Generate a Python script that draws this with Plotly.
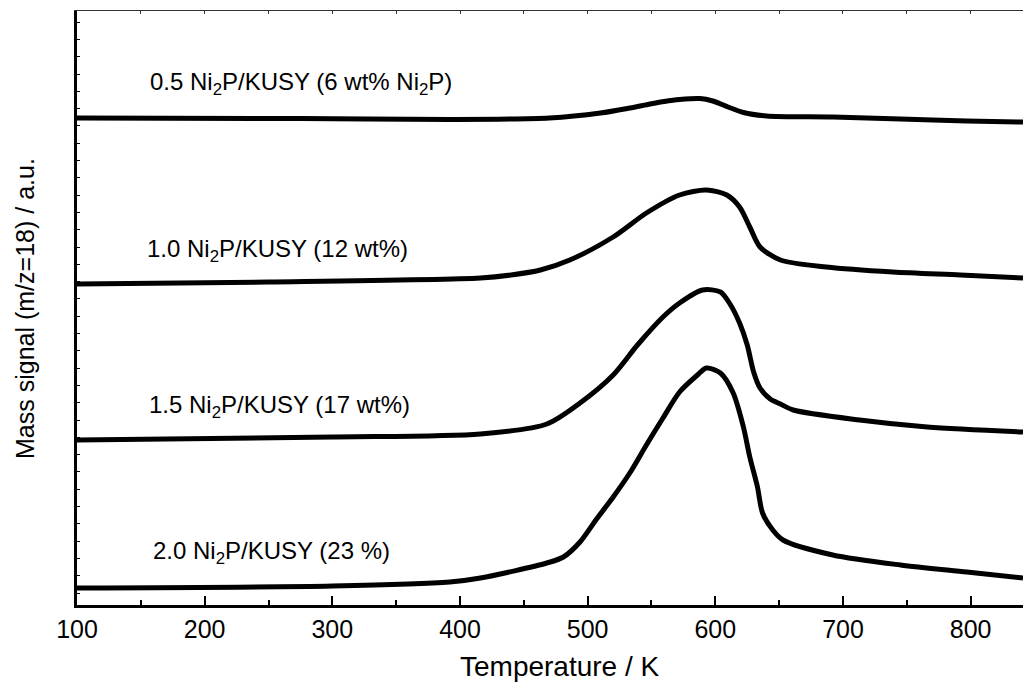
import plotly.graph_objects as go

# Temperature (K) and mass signal (a.u.)
temp_a = [100, 275, 392, 470, 510, 533, 549, 560, 572, 588, 598, 610, 622, 640, 692, 745, 797, 841]
sig_a = [4.87, 4.865, 4.855, 4.87, 4.92, 4.97, 5.01, 5.035, 5.055, 5.065, 5.04, 4.98, 4.925, 4.89, 4.88, 4.86, 4.84, 4.83]

temp_b = [100, 250, 416, 440, 463, 486, 520, 546, 572, 593, 609, 619, 627, 635, 651, 687, 739, 792, 841]
sig_b = [3.21, 3.23, 3.27, 3.30, 3.35, 3.45, 3.68, 3.92, 4.10, 4.15, 4.10, 3.98, 3.78, 3.58, 3.45, 3.38, 3.33, 3.30, 3.27]

temp_c = [100, 300, 416, 468, 494, 520, 539, 559, 572, 590, 604, 611, 619, 625, 630, 635, 643, 651, 661, 713, 766, 841]
sig_c = [1.65, 1.68, 1.71, 1.81, 2.02, 2.30, 2.60, 2.88, 3.02, 3.15, 3.13, 3.02, 2.82, 2.60, 2.33, 2.17, 2.06, 2.01, 1.95, 1.85, 1.78, 1.73]

temp_d = [100, 300, 392, 416, 468, 481, 494, 507, 520, 533, 546, 559, 572, 586, 593, 604, 614, 622, 627, 633, 637, 645, 653, 692, 745, 797, 841]
sig_d = [0.17, 0.19, 0.23, 0.27, 0.42, 0.48, 0.63, 0.86, 1.08, 1.32, 1.60, 1.87, 2.13, 2.30, 2.37, 2.32, 2.12, 1.78, 1.48, 1.18, 0.92, 0.75, 0.65, 0.50, 0.40, 0.33, 0.27]

labels = [
    "0.5 Ni<sub>2</sub>P/KUSY (6 wt% Ni<sub>2</sub>P)",
    "1.0 Ni<sub>2</sub>P/KUSY (12 wt%)",
    "1.5 Ni<sub>2</sub>P/KUSY (17 wt%)",
    "2.0 Ni<sub>2</sub>P/KUSY (23 %)",
]
label_x = [156, 153, 155, 158]
label_y = [5.22, 3.55, 1.99, 0.53]

x_ticks = [100, 200, 300, 400, 500, 600, 700, 800]

FONT = "Liberation Sans, Arial, Helvetica, sans-serif"

fig = go.Figure()
for tx, sy in [(temp_a, sig_a), (temp_b, sig_b), (temp_c, sig_c), (temp_d, sig_d)]:
    fig.add_trace(go.Scatter(x=tx, y=sy, mode="lines",
                             line=dict(color="black", width=5, shape="spline", smoothing=0.8),
                             showlegend=False, hoverinfo="skip"))

# invisible trace for top axis
fig.add_trace(go.Scatter(x=[100], y=[0], xaxis="x2", mode="markers",
                         marker=dict(opacity=0), showlegend=False, hoverinfo="skip"))

for txt, lx, ly in zip(labels, label_x, label_y):
    fig.add_annotation(x=lx, y=ly, text=txt, showarrow=False, xanchor="left", yanchor="middle",
                       font=dict(family=FONT, size=24, color="black"))

# axis titles
fig.add_annotation(xref="paper", yref="paper", x=0.511, y=-0.104, text="Temperature / K",
                   showarrow=False, xanchor="center", yanchor="middle",
                   font=dict(family=FONT, size=28, color="black"))
fig.add_annotation(xref="paper", yref="paper", x=-0.055, y=0.5, text="Mass signal (m/z=18) / a.u.",
                   showarrow=False, xanchor="center", yanchor="middle", textangle=-90,
                   font=dict(family=FONT, size=25, color="black"))

fig.update_layout(
    width=1023, height=682,
    margin=dict(l=77, r=0, t=11, b=77),
    paper_bgcolor="white", plot_bgcolor="white",
    font=dict(family=FONT, color="black"),
    xaxis=dict(range=[100, 841], tickvals=x_ticks, ticktext=[str(v) for v in x_ticks],
               ticks="inside", ticklen=9, tickwidth=2, tickcolor="black",
               minor=dict(dtick=50, tick0=100, ticks="inside", ticklen=5, tickwidth=2, tickcolor="black"),
               showline=True, linewidth=2.5, linecolor="black", showgrid=False, zeroline=False,
               tickfont=dict(size=25, family=FONT, color="black")),
    xaxis2=dict(range=[100, 841], overlaying="x", side="top", anchor="y",
                ticks="inside", dtick=50, tick0=100, ticklen=3, tickwidth=1, tickcolor="#333",
                showticklabels=False, showline=True, linewidth=1.2, linecolor="#333",
                showgrid=False, zeroline=False),
    yaxis=dict(range=[0, 5.94], showticklabels=False, ticks="inside", tick0=0.12, dtick=0.173,
               ticklen=3, tickwidth=1, tickcolor="black",
               showline=True, linewidth=2.5, linecolor="black", showgrid=False, zeroline=False),
)

fig.write_html("out.html")
